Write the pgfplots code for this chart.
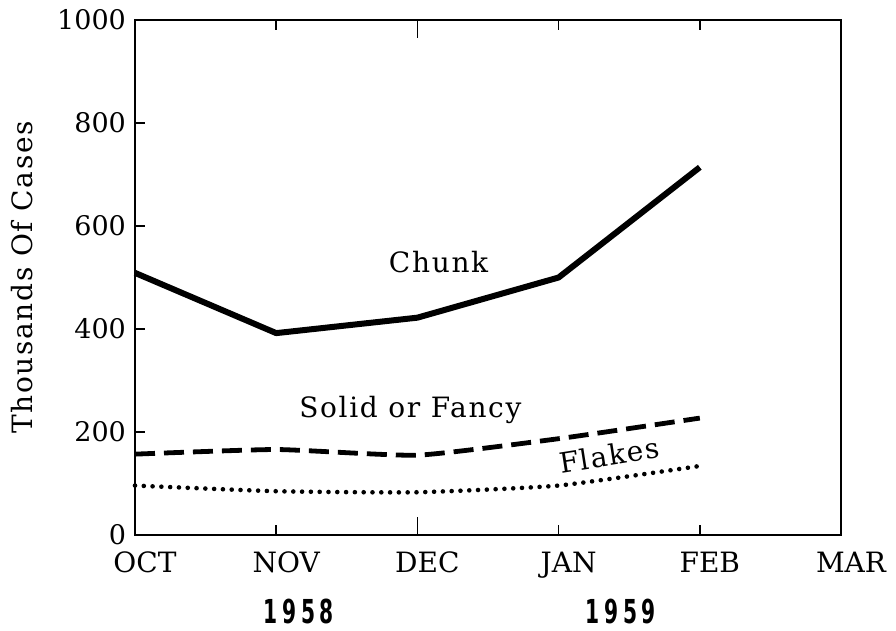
\documentclass[border=0pt]{standalone}
\usepackage{pgfplots}
\pgfplotsset{compat=1.18}
\usepackage{fontspec}
\setmainfont{DejaVu Serif}
\newfontfamily\yearfont{DejaVu Sans Condensed}
\newfontfamily\labfont[LetterSpace=6]{DejaVu Serif}
\newcommand\yr[4]{\scalebox{0.68}[1]{\yearfont\bfseries\fontsize{16.5}{18}\selectfont #1\kern3.5pt#2\kern3.5pt#3\kern3.5pt#4}}
\begin{document}
\begin{tikzpicture}
\begin{axis}[
  name=main,
  scale only axis,
  width=353pt, height=257.5pt,
  xmin=0, xmax=5, ymin=0, ymax=1000,
  xtick={0,1,2,3,4,5},
  xticklabels={OCT,NOV,DEC,JAN,FEB,MAR},
  extra x ticks={2},
  extra x tick labels={},
  extra x tick style={major tick length=9pt},
  ytick={0,200,400,600,800,1000},
  ytick pos=left,
  xtick pos=both,
  tick label style={font=\fontsize{13.5}{15}\selectfont},
  xticklabel style={font=\fontsize{14}{16}\selectfont, xshift=5pt, yshift=-5pt},
  yticklabel style={xshift=-1pt},
  /pgf/number format/assume math mode=true,
  /pgf/number format/1000 sep={},
  tick align=inside,
  major tick length=5pt,
  tick style={black, line width=0.8pt},
  axis line style={line width=1.1pt},
  ylabel={\labfont Thousands Of Cases},
  ylabel style={font=\fontsize{14}{16}\selectfont, at={(axis description cs:-0.16,0.5)}, anchor=center},
  clip=false,
]
\addplot[black, line width=3pt, line join=round] coordinates {
  (0,509) (1,392) (2,422) (3,500) (4,714)
};
\addplot[black, line width=2.4pt, dash pattern=on 10pt off 4.5pt, smooth, tension=0.3] coordinates {
  (0,157) (1,166) (2,155) (3,187) (4,227)
};
\addplot[black, line width=2.3pt, line cap=round, dash pattern=on 0pt off 4.4pt, smooth, tension=0.3] coordinates {
  (0,96) (1,85) (2,83) (3,96) (4,134)
};
\node[font=\labfont\fontsize{14}{16}\selectfont] at (axis cs:2.15,530) {Chunk};
\node[font=\labfont\fontsize{14}{16}\selectfont] at (axis cs:1.95,243) {Solid or Fancy};
\node[font=\labfont\fontsize{14}{16}\selectfont, rotate=9] at (axis cs:3.36,155) {Flakes};
\node at (rel axis cs:0.232,-0.149) {\yr1958};
\node at (rel axis cs:0.688,-0.149) {\yr1959};
\end{axis}
\path (main.south west) ++(-67.5pt,-47.5pt);
\path (main.north east) ++(27.5pt,10pt);
\end{tikzpicture}
\end{document}
